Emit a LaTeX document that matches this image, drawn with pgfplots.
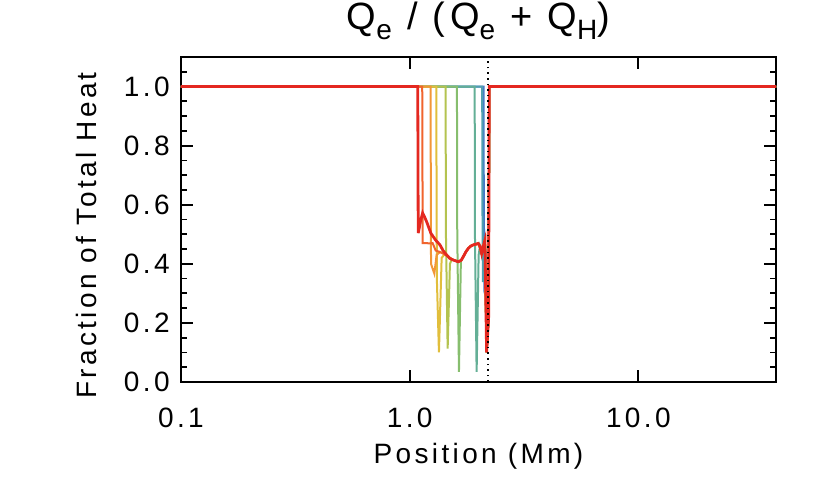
\documentclass[border=0pt]{standalone}
\usepackage{pgfplots}
\pgfplotsset{compat=1.18}
\usepackage{fontspec}
\setmainfont{Liberation Sans}[LetterSpace=12]

\definecolor{c1}{RGB}{228,40,32}
\definecolor{c2}{RGB}{240,100,45}
\definecolor{c3}{RGB}{242,150,55}
\definecolor{c4}{RGB}{225,190,60}
\definecolor{c5}{RGB}{180,195,80}
\definecolor{c6}{RGB}{135,190,110}
\definecolor{c7}{RGB}{100,175,150}
\definecolor{c8}{RGB}{80,160,175}
\definecolor{c9}{RGB}{70,120,200}

\newcommand{\sub}[1]{\raisebox{-0.45ex}{\fontsize{14}{14}\selectfont #1}}

\begin{document}
\begin{tikzpicture}
  \begin{axis}[
      name=ax,
      at={(0pt,0pt)}, anchor=south west,
      scale only axis,
      width=297.5pt, height=162.5pt,
      xmode=log, log basis x=10,
      xmin=0.1, xmax=40,
      ymin=0, ymax=1.1,
      xtick={0.1,1,10}, xticklabels={0.1,1.0,10.0},
      ytick={0,0.2,0.4,0.6,0.8,1.0},
      yticklabels={0.0,0.2,0.4,0.6,0.8,1.0},
      minor ytick={0.05,0.1,...,1.05},
      tick align=inside,
      major tick length=6pt, minor tick length=3pt,
      every tick/.style={black, line width=0.9pt},
      axis line style={line width=1pt},
      font=\fontsize{14}{16}\selectfont,
      x tick label style={anchor=base, yshift=-22.5pt, inner sep=0pt},
      y tick label style={anchor=east, inner sep=0pt, xshift=-5.5pt},
      title={Q\sub{e} / (Q\sub{e} + Q\sub{H})},
      title style={at={(0.5,1)}, anchor=base, yshift=7.5pt, inner sep=0pt, font=\fontsize{19}{22}\selectfont},
      xlabel={Position (Mm)},
      xlabel style={at={(0.5,0)}, anchor=base, yshift=-40.5pt, inner sep=0pt},
      clip=true,
    ]

    % blue
    \addplot[c9, line width=1pt] coordinates {
      (0.1,1) (2.105,1) (2.11,0.6) (2.125,0.3) (2.15,0.45) (2.17,0.1)
      (2.215,0.22) (2.228,1) (40,1)
    };
    % teal
    \addplot[c8, line width=1pt] coordinates {
      (0.1,1) (2.076,1) (2.081,0.6) (2.09,0.338) (2.11,0.45) (2.134,0.47)
      (2.17,0.1) (2.215,0.22) (2.228,1) (40,1)
    };
    % teal-green
    \addplot[c7, line width=1pt] coordinates {
      (0.1,1) (1.925,1) (1.930,0.5) (1.963,0.034) (2.003,0.43) (2.03,0.46)
      (2.064,0.44) (2.10,0.45) (2.134,0.47) (2.17,0.1) (2.215,0.22)
      (2.228,1) (40,1)
    };
    % green
    \addplot[c6, line width=1pt] coordinates {
      (0.1,1) (1.610,1) (1.615,0.5) (1.643,0.034) (1.675,0.41) (1.716,0.424)
      (1.76,0.44) (1.804,0.452) (1.85,0.46) (1.897,0.464) (1.95,0.466)
      (1.995,0.469) (2.03,0.455) (2.064,0.435) (2.10,0.46) (2.134,0.48)
      (2.17,0.1) (2.215,0.22) (2.228,1) (40,1)
    };
    % yellow-green
    \addplot[c5, line width=1pt] coordinates {
      (0.1,1) (1.436,1) (1.441,0.5) (1.466,0.113) (1.50,0.40) (1.53,0.415)
      (1.551,0.413) (1.632,0.407) (1.68,0.412) (1.716,0.424) (1.76,0.44)
      (1.804,0.452) (1.85,0.46) (1.897,0.464) (1.95,0.466) (1.995,0.469)
      (2.03,0.455) (2.064,0.435) (2.10,0.46) (2.134,0.48) (2.17,0.1)
      (2.215,0.22) (2.228,1) (40,1)
    };
    % yellow-orange
    \addplot[c4, line width=1pt] coordinates {
      (0.1,1) (1.307,1) (1.315,0.35) (1.343,0.10) (1.38,0.42) (1.42,0.432)
      (1.451,0.428) (1.50,0.42) (1.551,0.413) (1.632,0.407) (1.68,0.412)
      (1.716,0.424) (1.76,0.44) (1.804,0.452) (1.85,0.46) (1.897,0.464)
      (1.95,0.466) (1.995,0.469) (2.03,0.455) (2.064,0.435) (2.10,0.46)
      (2.134,0.48) (2.17,0.1) (2.215,0.22) (2.228,1) (40,1)
    };
    % orange
    \addplot[c3, line width=1pt] coordinates {
      (0.1,1) (1.234,1) (1.24,0.40) (1.282,0.367) (1.312,0.43) (1.357,0.44)
      (1.40,0.435) (1.451,0.428) (1.50,0.42) (1.551,0.413) (1.632,0.407)
      (1.68,0.412) (1.716,0.424) (1.76,0.44) (1.804,0.452) (1.85,0.46)
      (1.897,0.464) (1.95,0.466) (1.995,0.469) (2.03,0.455) (2.064,0.435)
      (2.10,0.46) (2.134,0.48) (2.17,0.1) (2.215,0.22) (2.228,1) (40,1)
    };
    % orange-red
    \addplot[c2, line width=1pt] coordinates {
      (0.1,1) (1.135,1) (1.14,0.47) (1.187,0.47) (1.22,0.469) (1.26,0.47)
      (1.30,0.445) (1.357,0.44) (1.40,0.435) (1.451,0.428) (1.50,0.42)
      (1.551,0.413) (1.632,0.407) (1.68,0.412) (1.716,0.424) (1.76,0.44)
      (1.804,0.452) (1.85,0.46) (1.897,0.464) (1.95,0.466) (1.995,0.469)
      (2.03,0.455) (2.064,0.435) (2.10,0.46) (2.134,0.48) (2.17,0.1)
      (2.215,0.22) (2.228,1) (40,1)
    };
    % red
    \addplot[c1, line width=1.4pt] coordinates {
      (0.1,1) (1.085,1) (1.090,0.504) (1.12,0.55) (1.14,0.572) (1.16,0.56)
      (1.187,0.542) (1.239,0.503) (1.30,0.48) (1.357,0.464) (1.40,0.445)
      (1.451,0.43) (1.50,0.418) (1.551,0.413) (1.632,0.407) (1.68,0.412)
      (1.716,0.424) (1.76,0.44) (1.804,0.452) (1.85,0.46) (1.897,0.464)
      (1.995,0.469) (2.03,0.46) (2.064,0.435) (2.10,0.46) (2.134,0.48)
      (2.17,0.1) (2.215,0.22) (2.228,1) (40,1)
    };
    % dotted marker line
    \addplot[black, dotted, line width=0.8pt] coordinates {(2.2,0) (2.2,1.1)};
  \end{axis}
  \node[rotate=90, anchor=base, inner sep=0pt, font=\fontsize{14}{16}\selectfont]
    at ([xshift=-42pt, yshift=-8pt]ax.west) {Fraction of Total Heat};
  \pgfresetboundingbox
  \path (-90.5pt,-58pt) rectangle (324.5pt,191pt);
\end{tikzpicture}
\end{document}
